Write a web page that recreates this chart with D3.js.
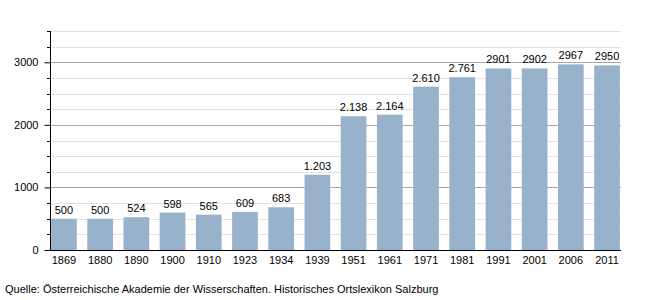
<!DOCTYPE html>
<html><head><meta charset="utf-8">
<script src="https://cdn.jsdelivr.net/npm/d3@7"></script>
<style>body{margin:0;background:#fff}svg{display:block}text{font-family:"Liberation Sans",Arial,sans-serif;fill:#000}</style>
</head><body><svg id="c" width="650" height="300"></svg>
<script>
const years = ["1869","1880","1890","1900","1910","1923","1934","1939","1951","1961","1971","1981","1991","2001","2006","2011"];
const population = [500,500,524,598,565,609,683,1203,2138,2164,2610,2761,2901,2902,2967,2950];
const valueLabels = ["500","500","524","598","565","609","683","1.203","2.138","2.164","2.610","2.761","2901","2902","2967","2950"];
const majorTicks = [0,1000,2000,3000];
const source = "Quelle: Österreichische Akademie der Wisserschaften. Historisches Ortslexikon Salzburg";

(function () {
const svg = d3.select("#c");
const left = 50, right = 621, plotTop = 31, bottom = 250;
const x = d3.scaleBand().domain(years).range([left, right]).paddingInner(0.29).paddingOuter(0.03);
const y = d3.scaleLinear().domain([0, 3500]).range([bottom, plotTop]);

const minor = d3.range(250, 3501, 250).filter(v => v % 1000 !== 0);
svg.append("g").selectAll("line").data(minor).join("line")
  .attr("x1", left).attr("x2", right).attr("y1", d => Math.round(y(d)) + 0.5).attr("y2", d => Math.round(y(d)) + 0.5)
  .attr("stroke", "#e2e2e2").attr("stroke-width", 1);
svg.append("g").selectAll("line").data(majorTicks.filter(d => d > 0)).join("line")
  .attr("x1", left).attr("x2", right).attr("y1", d => Math.round(y(d)) + 0.5).attr("y2", d => Math.round(y(d)) + 0.5)
  .attr("stroke", "#a8a8a8").attr("stroke-width", 1);

svg.append("g").selectAll("rect").data(population).join("rect")
  .attr("x", (d, i) => x(years[i])).attr("width", x.bandwidth())
  .attr("y", d => y(d)).attr("height", d => y(0) - y(d))
  .attr("fill", "#99b2cb");

svg.append("g").selectAll("text").data(population).join("text")
  .attr("x", (d, i) => x(years[i]) + x.bandwidth() / 2).attr("y", d => y(d) - 5)
  .attr("text-anchor", "middle").attr("font-size", 11)
  .text((d, i) => valueLabels[i]);

const yAxis = d3.axisLeft(y).tickValues(majorTicks).tickSize(6).tickPadding(6).tickFormat(d3.format("d"));
const ya = svg.append("g").attr("transform", `translate(${left + 0.5},0)`).call(yAxis);
ya.select(".domain").remove();
ya.selectAll("text").attr("font-size", 11).attr("font-family", "Liberation Sans, Arial, sans-serif");
ya.selectAll(".tick line").attr("stroke", "#000");
svg.append("g").selectAll("line").data(minor).join("line")
  .attr("x1", left - 3).attr("x2", left).attr("y1", d => Math.round(y(d)) + 0.5).attr("y2", d => Math.round(y(d)) + 0.5)
  .attr("stroke", "#000");
svg.append("line").attr("x1", left + 0.5).attr("x2", left + 0.5).attr("y1", plotTop).attr("y2", bottom).attr("stroke", "#000");

const xAxis = d3.axisBottom(x).tickSize(0).tickPadding(6);
const xa = svg.append("g").attr("transform", `translate(0,${bottom + 0.5})`).call(xAxis);
xa.select(".domain").remove();
xa.selectAll("text").attr("font-size", 11).attr("font-family", "Liberation Sans, Arial, sans-serif");
svg.append("line").attr("x1", left - 5).attr("x2", right).attr("y1", bottom + 0.5).attr("y2", bottom + 0.5).attr("stroke", "#000");

svg.append("text").attr("x", 5).attr("y", 293).attr("font-size", 11).text(source);
})();
</script></body></html>
